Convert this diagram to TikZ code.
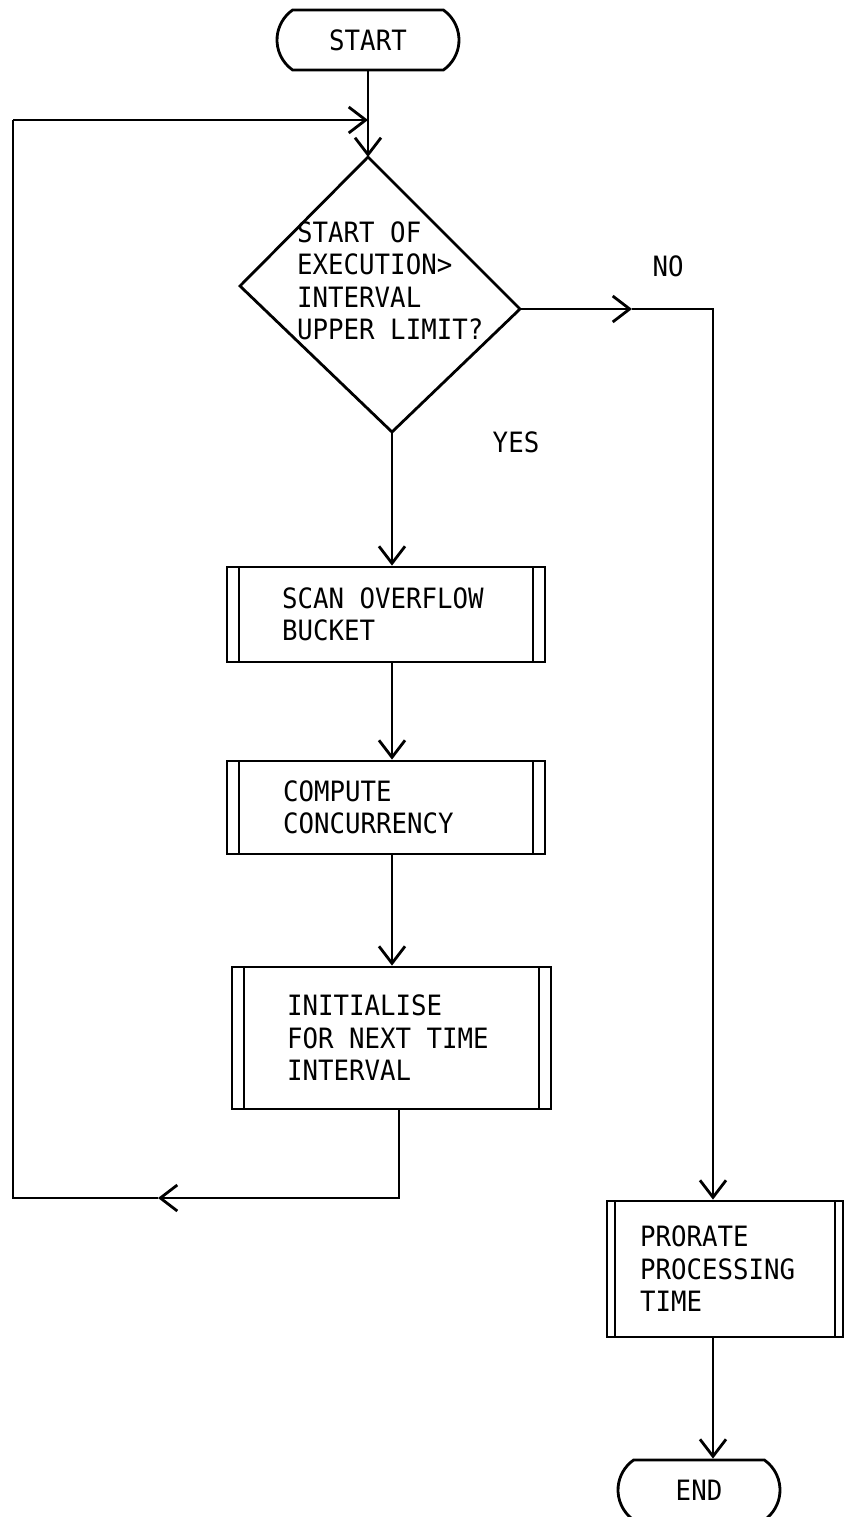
\documentclass[tikz,border=0pt]{standalone}
\usepackage{fontspec}
\newfontfamily\chartfont[FakeStretch=0.92,WordSpace={1,0,0}]{DejaVu Sans Mono}
\usetikzlibrary{arrows.meta}
\usetikzlibrary{shapes.misc}
\usetikzlibrary{positioning}

\tikzset{
  lbl/.style={font=\chartfont\fontsize{28}{32.5}\selectfont, inner sep=0pt},
  terminal/.style={lbl, draw, line width=2.8pt, rounded rectangle,
    rounded rectangle arc length=110, minimum height=60pt},
  sidebars/.style={path picture={
    \draw[line width=2.6pt] ([xshift=#1]path picture bounding box.north west)
      -- ([xshift=#1]path picture bounding box.south west);
    \draw[line width=2.6pt] ([xshift=-#1]path picture bounding box.north east)
      -- ([xshift=-#1]path picture bounding box.south east);}},
  procbox/.style={lbl, draw, line width=2.8pt, align=flush left, inner ysep=0pt},
  link/.style={line width=2.8pt},
  flow/.style={link, -{Straight Barb[length=17pt,width=26pt]}},
}

\begin{document}
\begin{tikzpicture}[x=1pt,y=-1pt,line join=miter]
\clip (0,0) rectangle (844,1517);
\fill[white] (0,0) rectangle (844,1517);

% terminals
\node[terminal, minimum width=182pt] (start) at (368,40) {START};
\node[terminal, minimum width=162pt] (finish) at (699,1490) {END};

% decision
\coordinate (dtop) at (368,157);
\coordinate (dleft) at (240,286);
\coordinate (dright) at (520,309);
\coordinate (dbot) at (392,432);
\draw[link] (dtop) -- (dright) -- (dbot) -- (dleft) -- cycle;
\node[lbl, anchor=west, align=left] (query) at (297,281)
  {START OF\\EXECUTION>\\INTERVAL\\UPPER LIMIT?};
\node[lbl] (nolbl) at (668,266) {NO};
\node[lbl] (yeslbl) at (516,442) {YES};

% processes
\node[procbox, sidebars=12pt, inner xsep=55pt, text width=208pt,
  minimum height=95pt] (scan) at (386,614.5) {SCAN OVERFLOW\\BUCKET};
\node[procbox, sidebars=12pt, inner xsep=56pt, text width=206pt,
  minimum height=93pt] (compute) at (386,807.5) {COMPUTE\\CONCURRENCY};
\node[procbox, sidebars=12pt, inner xsep=55pt, text width=209pt,
  minimum height=142pt] (init) at (391.5,1038) {INITIALISE\\FOR NEXT TIME\\INTERVAL};
\node[procbox, sidebars=8pt, inner xsep=33pt, text width=170pt,
  minimum height=136pt] (prorate) at (725,1269) {PRORATE\\PROCESSING\\TIME};

% main column
\draw[flow] (start.south) -- (dtop);
\draw[flow] (dbot) -- (dbot |- scan.north);
\draw[flow] (scan.south -| dbot) -- (compute.north -| dbot);
\draw[flow] (compute.south -| dbot) -- (init.north -| dbot);

% loop back
\coordinate (loopin) at (368,120);
\coordinate (loopl) at (13,120);
\coordinate (loopbl) at (13,1198);
\coordinate (loopbr) at (399,1198);
\coordinate (looparr) at (158,1198);
\draw[flow] (init.south -| loopbr) -- (loopbr) -- (looparr);
\draw[link] (looparr) -- (loopbl) -- (loopl);
\draw[flow] (loopl) -- (loopin);

% NO branch
\coordinate (noarr) at (632,309);
\coordinate (nocorner) at (713,309);
\draw[flow] (dright) -- (noarr);
\draw[flow] (noarr) -- (nocorner) -- (nocorner |- prorate.north);
\draw[flow] (prorate.south -| nocorner) -- (finish.north -| nocorner);
\end{tikzpicture}
\end{document}
